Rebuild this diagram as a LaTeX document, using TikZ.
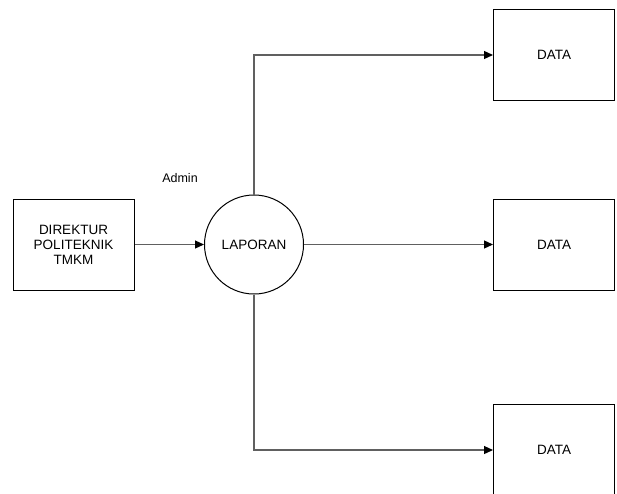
\documentclass[tikz,border=0pt]{standalone}
\usepackage{fontspec}
\setmainfont{Liberation Sans}
\usetikzlibrary{arrows.meta}
\definecolor{flowgray}{RGB}{96,96,96}

\tikzset{
    entity/.style = {draw, line width=1pt, minimum width=121pt, minimum height=91pt,
                     inner sep=0pt, align=center, font=\fontsize{13.5}{15}\selectfont},
    proc/.style   = {draw, circle, line width=1pt, minimum size=99pt, inner sep=0pt,
                     font=\fontsize{13.5}{15}\selectfont},
    flow/.style   = {draw=flowgray, line width=1.2pt,
                     -{Triangle[length=9pt,width=8pt,color=black]}}
}

\begin{document}
\begin{tikzpicture}[x=1pt, y=-1pt]
    \useasboundingbox (0,0) rectangle (617,493);
    \node[entity] (direktur) at (73.5,244.5) {DIREKTUR\\POLITEKNIK\\TMKM};
    \node[proc] (laporan) at (254,244.5) {LAPORAN};
    \node[entity] (dataA) at (554,55) {DATA};
    \node[entity] (dataB) at (554,244.5) {DATA};
    \node[entity] (dataC) at (554,450) {DATA};
    \node[font=\fontsize{12.5}{14}\selectfont] (admin) at (180,178) {Admin};
    \draw[flow] (direktur) -- (laporan);
    \draw[flow] (laporan.north) |- (dataA.west);
    \draw[flow] (laporan) -- (dataB);
    \draw[flow] (laporan.south) |- (dataC.west);
\end{tikzpicture}
\end{document}
